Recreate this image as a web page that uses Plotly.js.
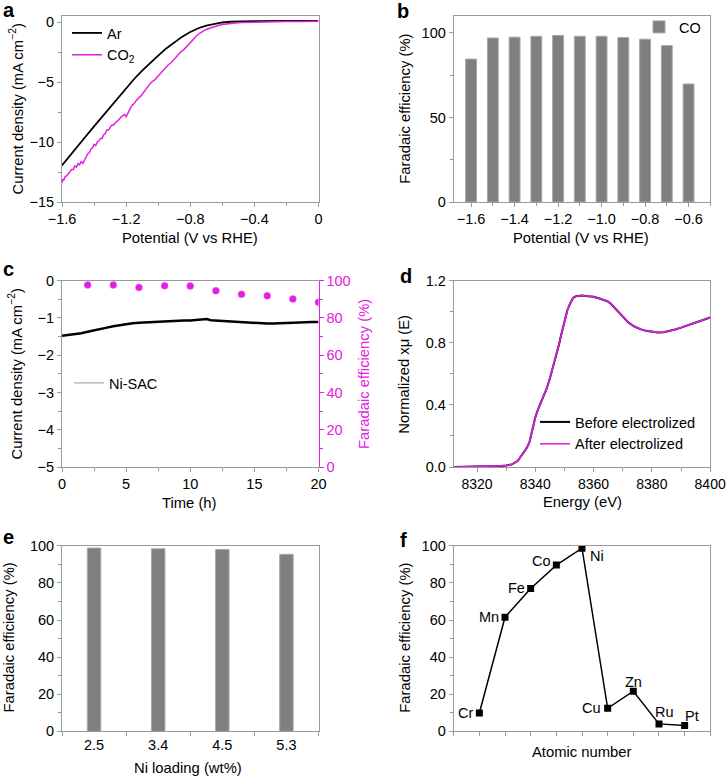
<!DOCTYPE html>
<html>
<head>
<meta charset="utf-8">
<script src="https://cdn.plot.ly/plotly-3.0.1.min.js"></script>
<style>html,body{margin:0;padding:0;background:#fff;}#chart{width:726px;height:776px;}</style>
</head>
<body>
<div id="chart"></div>
<script>
// ---------- Panel a: LSV ----------
const arV = [-1.60,-1.55,-1.50,-1.45,-1.40,-1.35,-1.30,-1.25,-1.20,-1.15,-1.10,-1.05,-1.00,-0.95,-0.90,-0.85,-0.80,-0.75,-0.70,-0.65,-0.60,-0.55,-0.50,-0.40,-0.20,0];
const arJ = [-11.95,-11.1,-10.3,-9.5,-8.7,-7.9,-7.1,-6.3,-5.5,-4.75,-4.05,-3.4,-2.8,-2.2,-1.7,-1.22,-0.83,-0.52,-0.30,-0.14,-0.04,0.02,0.05,0.08,0.10,0.10];
const co2V = [-1.600,-1.595,-1.590,-1.580,-1.570,-1.560,-1.550,-1.540,-1.530,-1.520,-1.510,-1.500,-1.490,-1.480,-1.470,-1.460,-1.450,-1.440,-1.430,-1.420,-1.410,-1.400,-1.390,-1.380,-1.370,-1.360,-1.350,-1.340,-1.330,-1.320,-1.310,-1.300,-1.290,-1.280,-1.270,-1.260,-1.250,-1.240,-1.230,-1.220,-1.210,-1.200,-1.190,-1.180,-1.170,-1.160,-1.150,-1.140,-1.130,-1.120,-1.110,-1.100,-1.080,-1.060,-1.040,-1.020,-1.000,-0.980,-0.960,-0.940,-0.920,-0.900,-0.880,-0.860,-0.840,-0.820,-0.800,-0.780,-0.760,-0.740,-0.720,-0.700,-0.680,-0.660,-0.640,-0.620,-0.600,-0.560,-0.520,-0.480,-0.440,-0.400,-0.300,-0.200,-0.100,0];
const co2J = [-13.4,-13.1,-13.2,-12.9,-12.8,-12.6,-12.5,-12.3,-12.3,-12.0,-12.1,-11.8,-11.9,-11.6,-11.8,-11.5,-11.3,-11.0,-10.9,-10.6,-10.5,-10.2,-10.3,-10.0,-9.9,-9.7,-9.7,-9.4,-9.3,-9.0,-9.0,-8.8,-8.6,-8.6,-8.4,-8.3,-8.2,-8.0,-7.9,-7.8,-7.7,-7.9,-7.6,-7.3,-7.1,-6.9,-6.8,-6.6,-6.4,-6.3,-6.2,-6.0,-5.7,-5.3,-5.0,-4.8,-4.5,-4.2,-3.9,-3.6,-3.4,-3.1,-2.8,-2.5,-2.3,-2.0,-1.75,-1.45,-1.15,-0.92,-0.75,-0.62,-0.52,-0.42,-0.34,-0.27,-0.21,-0.13,-0.08,-0.05,-0.03,-0.01,0.02,0.04,0.05,0.06];

// ---------- Panel b: FE vs potential ----------
const bPot = [-1.6,-1.5,-1.4,-1.3,-1.2,-1.1,-1.0,-0.9,-0.8,-0.7,-0.6];
const bFE  = [84.5,97,97.5,98,98.5,98,98,97.3,96.3,92.5,69.8];

// ---------- Panel c: stability ----------
const cTime = [0,0.5,1,1.5,2,2.5,3,3.5,4,4.5,5,5.5,6,6.5,7,7.5,8,8.5,9,9.5,10,10.5,11,11.3,11.6,12,12.5,13,13.5,14,14.5,15,15.5,16,16.5,17,17.5,18,18.5,19,19.5,20];
const cJ    = [-1.48,-1.46,-1.44,-1.41,-1.37,-1.34,-1.30,-1.26,-1.22,-1.19,-1.15,-1.14,-1.13,-1.12,-1.10,-1.09,-1.08,-1.08,-1.07,-1.07,-1.07,-1.06,-1.05,-1.03,-1.06,-1.07,-1.08,-1.08,-1.09,-1.10,-1.12,-1.13,-1.14,-1.15,-1.15,-1.14,-1.14,-1.13,-1.12,-1.12,-1.11,-1.11];
const cFeTime = [2,4,6,8,10,12,14,16,18,20];
const cFE     = [97.7,97.7,96.4,97.3,97.2,94.6,92.7,91.9,90.2,88.4];

// ---------- Panel d: XANES ----------
const dE = [8312,8316,8320,8324,8328,8330,8332,8334,8336,8337,8338,8339,8340,8341,8342,8343,8344,8345,8346,8347,8348,8349,8350,8351,8352,8353,8354,8356,8358,8360,8362,8364,8365,8366,8368,8370,8372,8374,8376,8378,8380,8382,8384,8386,8388,8390,8392,8394,8396,8398,8400];
const dBefore = [0.000,0.001,0.002,0.004,0.007,0.010,0.017,0.040,0.090,0.120,0.160,0.240,0.320,0.375,0.420,0.460,0.510,0.570,0.640,0.700,0.780,0.860,0.940,1.010,1.055,1.090,1.100,1.105,1.100,1.097,1.085,1.075,1.065,1.050,1.010,0.965,0.930,0.905,0.888,0.877,0.870,0.867,0.868,0.875,0.886,0.898,0.912,0.926,0.940,0.952,0.963];
const dAfter  = [0.000,0.001,0.002,0.004,0.007,0.010,0.017,0.040,0.090,0.120,0.160,0.240,0.320,0.375,0.420,0.460,0.510,0.570,0.640,0.700,0.780,0.860,0.940,1.010,1.055,1.090,1.100,1.105,1.100,1.097,1.085,1.075,1.065,1.050,1.010,0.965,0.930,0.905,0.888,0.877,0.870,0.867,0.868,0.875,0.886,0.898,0.912,0.926,0.940,0.952,0.963];

// ---------- Panel e: Ni loading ----------
const eLoad = ['2.5','3.4','4.5','5.3'];
const eFE   = [98.8,98.4,98.0,95.4];

// ---------- Panel f: metals ----------
const fElem = ['Cr','Mn','Fe','Co','Ni','Cu','Zn','Ru','Pt'];
const fIdx  = [1,2,3,4,5,6,7,8,9];
const fFE   = [9.9,61.5,77,89.6,98.7,12.4,21.6,4,3.1];

// ---------- layout helpers ----------
const W = 726, H = 776;
const MAG = '#e020e0';
const GR = '#9a9a9a';
const FONT = 'Liberation Sans, Arial, Helvetica, sans-serif';
const FS = 14.5, TS = 14.8;
const px = v => v / W;
const py = v => 1 - v / H;

function ax(dom, range, extra) {
  return Object.assign({
    domain: dom, range: range, showline: true, linecolor: GR, linewidth: 1, mirror: true,
    ticks: 'outside', ticklen: 4, tickcolor: GR, tickwidth: 1,
    tickfont: {size: FS, color: '#000', family: FONT},
    showgrid: false, zeroline: false, fixedrange: true
  }, extra || {});
}
const XL = [px(62), px(318.5)], XR = [px(453.7), px(710.3)];
const YT = [py(202), py(16)], YM = [py(467), py(280.7)], YB = [py(731.3), py(545.8)];

const traces = [
  {x: arV, y: arJ, xaxis: 'x', yaxis: 'y', mode: 'lines', name: 'Ar', line: {color: '#000', width: 1.8}, legend: 'legend'},
  {x: co2V, y: co2J, xaxis: 'x', yaxis: 'y', mode: 'lines', name: 'CO<sub>2</sub>', line: {color: MAG, width: 1.5}, legend: 'legend'},
  {x: bPot, y: bFE, xaxis: 'x2', yaxis: 'y2', type: 'bar', name: 'CO', width: 0.05,
   marker: {color: '#7f7f7f', line: {color: '#a8a8a8', width: 1}}, legend: 'legend2'},
  {x: cTime, y: cJ, xaxis: 'x3', yaxis: 'y3', mode: 'lines', name: 'Ni-SAC', showlegend: false, line: {color: '#000', width: 2.5}},
  {x: [null], y: [null], xaxis: 'x3', yaxis: 'y3', mode: 'lines', name: 'Ni-SAC', line: {color: '#999', width: 1}, legend: 'legend3'},
  {x: cFeTime, y: cFE, xaxis: 'x3', yaxis: 'y4', mode: 'markers', name: 'FE', showlegend: false,
   marker: {color: MAG, size: 7, line: {color: '#f070f0', width: 0.5}}},
  {x: dE, y: dBefore, xaxis: 'x4', yaxis: 'y5', mode: 'lines', name: 'Before electrolized', line: {color: '#000', width: 2}, legend: 'legend4'},
  {x: dE, y: dAfter, xaxis: 'x4', yaxis: 'y5', mode: 'lines', name: 'After electrolized', line: {color: MAG, width: 1.6}, legend: 'legend4'},
  {x: eLoad, y: eFE, xaxis: 'x5', yaxis: 'y6', type: 'bar', width: 0.21, showlegend: false,
   marker: {color: '#7f7f7f', line: {color: '#a8a8a8', width: 1}}},
  {x: fIdx, y: fFE, xaxis: 'x6', yaxis: 'y7', mode: 'lines+markers', showlegend: false,
   line: {color: '#000', width: 1.5}, marker: {symbol: 'square', size: 7, color: '#000'}}
];

// annotations
const ann = [];
function T(text, x, y, opt) {
  ann.push(Object.assign({text: text, x: px(x), y: py(y), xref: 'paper', yref: 'paper', showarrow: false,
    xanchor: 'center', yanchor: 'middle', font: {size: TS, color: '#000', family: FONT}}, opt || {}));
}
// panel letters
const LF = {size: 20, color: '#000', family: FONT, weight: 'bold'};
T('<b>a</b>', 1, 10, {xanchor: 'left', font: LF});
T('<b>b</b>', 395, 11, {xanchor: 'left', font: LF});
T('<b>c</b>', 1, 269, {xanchor: 'left', font: LF});
T('<b>d</b>', 398, 276, {xanchor: 'left', font: LF});
T('<b>e</b>', 1, 537, {xanchor: 'left', font: LF});
T('<b>f</b>', 398, 540, {xanchor: 'left', font: LF});
// axis titles
T('Current density (mA cm<sup>−2</sup>)', 16.5, 109, {textangle: -90});
T('Potential (V vs RHE)', 190, 238);
T('Faradaic efficiency (%)', 404.7, 109, {textangle: -90});
T('Potential (V vs RHE)', 580.5, 238);
T('Current density (mA cm<sup>−2</sup>)', 15.5, 374, {textangle: -90});
T('Faradaic efficiency (%)', 364, 374, {textangle: -90, font: {size: TS, color: MAG, family: FONT}});
T('Time (h)', 190, 503);
T('Normalized xμ (E)', 403.7, 374, {textangle: -90});
T('Energy (eV)', 582, 502);
T('Faradaic efficiency (%)', 8.5, 638, {textangle: -90});
T('Ni loading (wt%)', 188, 768);
T('Faradaic efficiency (%)', 404.7, 638, {textangle: -90});
T('Atomic number', 582, 752);
// element labels in f
const fOff = [[-4, 0, 'right'], [-4, 0, 'right'], [-4, 0, 'right'], [-3, 4, 'right'], [6, -8, 'left'],
              [-5, 0, 'right'], [0, 9, 'center'], [6, 12, 'center'], [7, 10, 'center']];
fElem.forEach((el, i) => {
  ann.push({text: el, x: fIdx[i], y: fFE[i], xref: 'x6', yref: 'y7', showarrow: false,
    xanchor: fOff[i][2], yanchor: 'middle', xshift: fOff[i][0], yshift: fOff[i][1],
    font: {size: FS, color: '#000', family: FONT}});
});

const legBase = {bgcolor: 'rgba(0,0,0,0)', font: {size: FS, color: '#000', family: FONT},
  xanchor: 'left', yanchor: 'top', tracegroupgap: 0, itemclick: false, itemdoubleclick: false};

const layout = {
  width: W, height: H, margin: {l: 0, r: 0, t: 0, b: 0},
  paper_bgcolor: '#fff', plot_bgcolor: 'rgba(0,0,0,0)',
  font: {family: FONT, size: FS, color: '#000'},
  bargap: 0,
  xaxis:  ax(XL, [-1.6, 0], {anchor: 'y', dtick: 0.4, tick0: 0, minor: {dtick: 0.2, ticks: 'outside', ticklen: 3, tickcolor: GR}}),
  yaxis:  ax(YT, [-15, 0.5], {anchor: 'x', dtick: 5, tick0: 0, minor: {dtick: 2.5, ticks: 'outside', ticklen: 3, tickcolor: GR}}),
  xaxis2: ax(XR, [-1.68, -0.5], {anchor: 'y2', dtick: 0.2, tick0: -1.6, tickformat: '.1f', minor: {dtick: 0.1, ticks: 'outside', ticklen: 3, tickcolor: GR}}),
  yaxis2: ax(YT, [0, 110], {anchor: 'x2', dtick: 50, tick0: 0, minor: {dtick: 25, ticks: 'outside', ticklen: 3, tickcolor: GR}}),
  xaxis3: ax(XL, [0, 20], {anchor: 'y3', dtick: 5, tick0: 0, minor: {dtick: 2.5, ticks: 'outside', ticklen: 3, tickcolor: GR}}),
  yaxis3: ax(YM, [-5, 0], {anchor: 'x3', mirror: false, dtick: 1, tick0: 0, minor: {dtick: 0.5, ticks: 'outside', ticklen: 3, tickcolor: GR}}),
  yaxis4: ax(YM, [0, 100], {anchor: 'x3', overlaying: 'y3', side: 'right', mirror: false, linecolor: MAG, tickcolor: MAG,
           tickfont: {size: FS, color: MAG, family: FONT}, dtick: 20, tick0: 0, minor: {dtick: 10, ticks: 'outside', ticklen: 3, tickcolor: MAG}}),
  xaxis4: ax(XR, [8312, 8400.05], {anchor: 'y5', dtick: 20, tick0: 8320, ticklabeloverflow: 'allow',
           tickfont: {size: 14, color: '#000', family: FONT},
           minor: {dtick: 10, ticks: 'outside', ticklen: 3, tickcolor: GR}}),
  yaxis5: ax(YM, [0, 1.2], {anchor: 'x4', dtick: 0.4, tick0: 0, tickformat: '.1f', minor: {dtick: 0.2, ticks: 'outside', ticklen: 3, tickcolor: GR}}),
  xaxis5: ax(XL, [-0.5, 3.5], {anchor: 'y6', type: 'category', tickson: 'boundaries'}),
  yaxis6: ax(YB, [0, 100], {anchor: 'x5', dtick: 20, tick0: 0, minor: {dtick: 10, ticks: 'outside', ticklen: 3, tickcolor: GR}}),
  xaxis6: ax(XR, [0, 10], {anchor: 'y7', dtick: 1, tick0: 0, showticklabels: false}),
  yaxis7: ax(YB, [0, 100], {anchor: 'x6', dtick: 20, tick0: 0, minor: {dtick: 10, ticks: 'outside', ticklen: 3, tickcolor: GR}}),
  legend:  Object.assign({}, legBase, {x: px(67), y: py(17)}),
  legend2: Object.assign({}, legBase, {x: px(639), y: py(11)}),
  legend3: Object.assign({}, legBase, {x: px(69), y: py(367)}),
  legend4: Object.assign({}, legBase, {x: px(535), y: py(406)}),
  annotations: ann,
  showlegend: true
};

Plotly.newPlot('chart', traces, layout, {displayModeBar: false, staticPlot: true});
</script>
</body>
</html>
